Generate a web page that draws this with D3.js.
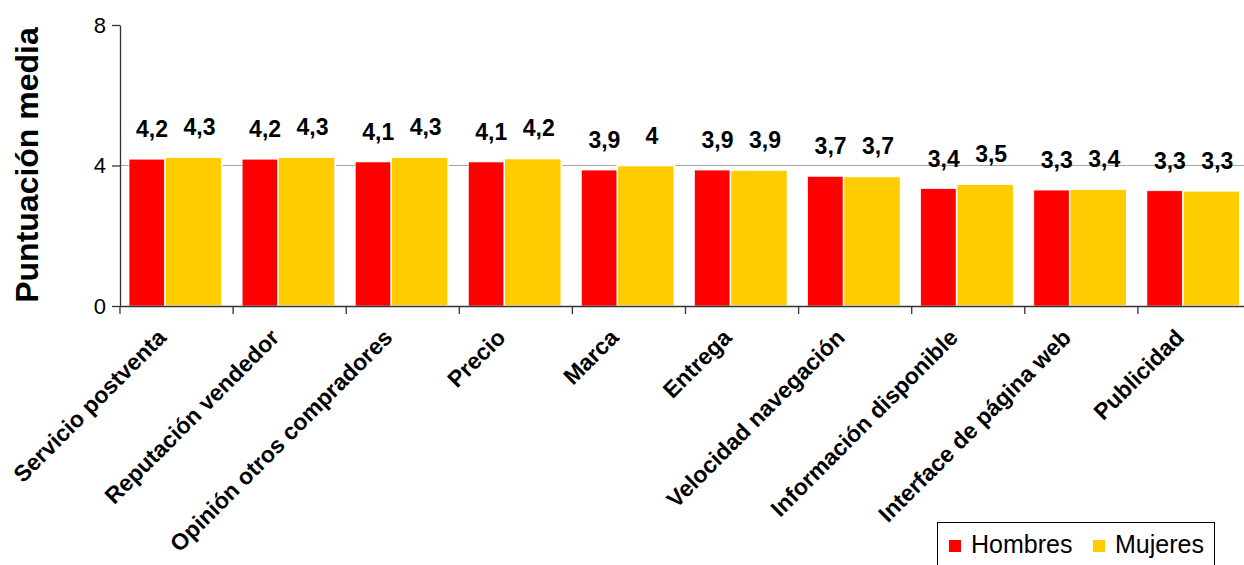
<!DOCTYPE html>
<html>
<head>
<meta charset="utf-8">
<script src="https://cdn.jsdelivr.net/npm/d3@7"></script>
<style>
  body { margin: 0; background: #fff; }
  svg text { font-family: "Liberation Sans", Arial, sans-serif; }
</style>
</head>
<body>
<div id="grafico"></div>
<script>
// datos
var categorias = ["Servicio postventa", "Reputación vendedor", "Opinión otros compradores", "Precio", "Marca",
  "Entrega", "Velocidad navegación", "Información disponible", "Interface de página web", "Publicidad"];
var hombres = [4.18, 4.18, 4.10, 4.10, 3.87, 3.87, 3.69, 3.34, 3.30, 3.28];
var mujeres = [4.24, 4.24, 4.24, 4.20, 4.00, 3.87, 3.69, 3.47, 3.33, 3.28];
var etiquetasHombres = ["4,2", "4,2", "4,1", "4,1", "3,9", "3,9", "3,7", "3,4", "3,3", "3,3"];
var etiquetasMujeres = ["4,3", "4,3", "4,3", "4,2", "4", "3,9", "3,7", "3,5", "3,4", "3,3"];
var ticksY = [0, 4, 8];
var series = ["Hombres", "Mujeres"];
var colores = ["#ff0000", "#ffcc00"];

var ancho = 1244, alto = 565;
var svg = d3.select("#grafico").append("svg")
  .attr("width", ancho).attr("height", alto);

// escalas
var x = d3.scaleBand().domain(categorias).range([120, 120 + 113.1 * categorias.length]).padding(0);
var y = d3.scaleLinear().domain([0, 8]).range([306, 25]);
var bw = x.bandwidth();

// linea de division en 4
svg.append("line")
  .attr("x1", 120).attr("x2", ancho)
  .attr("y1", y(4)).attr("y2", y(4))
  .attr("stroke", "#a6a6a6").attr("stroke-width", 1.2);

var datos = categorias.map(function(c, i) {
  return {cat: c, h: hombres[i], m: mujeres[i], eh: etiquetasHombres[i], em: etiquetasMujeres[i]};
});

// barras hombres (rojo), mujeres encima (amarillo)
svg.selectAll(".barH").data(datos).enter().append("rect")
  .attr("class", "barH")
  .attr("x", d => x(d.cat) + bw * 0.08)
  .attr("width", bw * 0.505)
  .attr("y", d => y(d.h))
  .attr("height", d => y(0) - y(d.h))
  .attr("fill", colores[0])
  .attr("stroke", "#fff").attr("stroke-width", 0.6);

svg.selectAll(".barM").data(datos).enter().append("rect")
  .attr("class", "barM")
  .attr("x", d => x(d.cat) + bw * 0.397)
  .attr("width", bw * 0.505)
  .attr("y", d => y(d.m))
  .attr("height", d => y(0) - y(d.m))
  .attr("fill", colores[1])
  .attr("stroke", "#fff").attr("stroke-width", 1.6);

// etiquetas de valor
svg.selectAll(".labH").data(datos).enter().append("text")
  .attr("x", d => x(d.cat) + bw * 0.08 + bw * 0.15 + 6)
  .attr("y", d => y(d.h) - 22)
  .attr("text-anchor", "middle")
  .style("font-size", "23px").style("font-weight", "bold")
  .text(d => d.eh);

svg.selectAll(".labM").data(datos).enter().append("text")
  .attr("x", d => x(d.cat) + bw * 0.397 + bw * 0.2525 + 6)
  .attr("y", d => y(d.m) - 22)
  .attr("text-anchor", "middle")
  .style("font-size", "23px").style("font-weight", "bold")
  .text(d => d.em);

// eje Y
var ejeY = svg.append("g")
  .attr("transform", "translate(120,0)")
  .call(d3.axisLeft(y).tickValues(ticksY).tickSize(8).tickSizeOuter(0).tickPadding(6)
    .tickFormat(d3.format("d")));
ejeY.selectAll("path, line").attr("stroke", "#333").attr("stroke-width", 1.3);
ejeY.selectAll("text").style("font-size", "22px").attr("fill", "#000");

// eje X
var ejeX = svg.append("g")
  .attr("transform", "translate(0,306)")
  .call(d3.axisBottom(x).tickSize(0).tickSizeOuter(0));
ejeX.select("path").attr("stroke", "#333").attr("stroke-width", 1.5);
ejeX.selectAll("text")
  .attr("x", 0).attr("y", 0).attr("dy", null)
  .attr("text-anchor", "end")
  .attr("transform", "translate(-9,33) rotate(-45)")
  .style("font-size", "23px").style("font-weight", "bold").attr("fill", "#000");

// marcas entre categorias
var bordes = categorias.map(c => x(c)).concat([x(categorias[categorias.length - 1]) + bw]);
svg.selectAll(".marcaX").data(bordes).enter().append("line")
  .attr("x1", d => d).attr("x2", d => d)
  .attr("y1", 306).attr("y2", 314)
  .attr("stroke", "#333").attr("stroke-width", 1.3);

// titulo eje Y
svg.append("text")
  .attr("transform", "translate(38,165) rotate(-90)")
  .attr("text-anchor", "middle")
  .style("font-size", "32px").style("font-weight", "bold")
  .text("Puntuación media");

// leyenda
var leyenda = svg.append("g");
leyenda.append("rect")
  .attr("x", 937.5).attr("y", 522.5).attr("width", 277).attr("height", 60)
  .attr("fill", "#fff").attr("stroke", "#000").attr("stroke-width", 1);
var posLeyenda = [949, 1093];
series.forEach(function(s, i) {
  leyenda.append("rect")
    .attr("x", posLeyenda[i]).attr("y", 540).attr("width", 12).attr("height", 12)
    .attr("fill", colores[i]);
  leyenda.append("text")
    .attr("x", posLeyenda[i] + 22).attr("y", 553)
    .style("font-size", "25px")
    .text(s);
});
</script>
</body>
</html>
